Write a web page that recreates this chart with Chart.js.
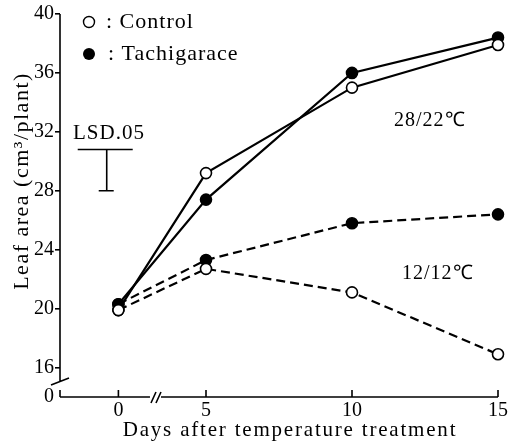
<!DOCTYPE html>
<html>
<head>
<meta charset="utf-8">
<script src="https://cdn.jsdelivr.net/npm/chart.js@4.4.1/dist/chart.umd.min.js"></script>
<style>
  body { margin: 0; background: #fff; }
  canvas { display: block; }
</style>
</head>
<body>
<canvas id="leaf-chart" width="515" height="445"></canvas>
<script>
// days after treatment and leaf area (cm3/plant)
const days = [0, 5, 10, 15];
const control28 = [19.9, 29.2, 35.0, 37.9];
const tachi28 = [20.3, 27.4, 36.0, 38.4];
const control12 = [19.9, 22.7, 21.1, 16.9];
const tachi12 = [20.3, 23.3, 25.8, 26.4];

const xTickLabels = ['0', '5', '10', '15'];
const yTickValues = [14, 16, 20, 24, 28, 32, 36, 40];
const yTickLabels = ['0', '16', '20', '24', '28', '32', '36', '40'];

const lsdBase = 28;
const lsdValue = 2.8;

// the x axis is broken between 0 and 5 days
function axisPos(d) {
  return d < 5 ? 2 + d * 0.6 : d;
}

const serif = '"Liberation Serif", "Times New Roman", serif';

function series(values, filled, dashed) {
  return {
    data: days.map((d, i) => ({ x: axisPos(d), y: values[i] })),
    borderColor: '#000',
    borderWidth: 2.2,
    borderDash: dashed ? [9, 5] : [],
    pointRadius: 5.5,
    pointHoverRadius: 5.5,
    pointBorderWidth: 1.6,
    pointBackgroundColor: filled ? '#000' : '#fff',
    pointBorderColor: '#000',
    tension: 0,
    fill: false,
    clip: false
  };
}

const extras = {
  id: 'extras',
  afterDraw(chart) {
    const ctx = chart.ctx;
    const x = chart.scales.x;
    const y = chart.scales.y;
    const left = x.left;
    const bottom = y.bottom;

    ctx.save();
    ctx.strokeStyle = '#000';
    ctx.fillStyle = '#000';
    ctx.lineWidth = 1.6;

    // y axis with break
    ctx.beginPath();
    ctx.moveTo(left, y.top);
    ctx.lineTo(left, bottom - 15);
    ctx.moveTo(left - 9, bottom - 12);
    ctx.lineTo(left + 9, bottom - 19);
    ctx.moveTo(left, bottom - 7);
    ctx.lineTo(left, bottom);
    ctx.stroke();

    // x axis with break
    const bx = x.getPixelForValue(3.15);
    ctx.beginPath();
    ctx.moveTo(left, bottom);
    ctx.lineTo(bx - 2, bottom);
    ctx.moveTo(bx + 9, bottom);
    ctx.lineTo(x.right, bottom);
    ctx.moveTo(bx - 1, bottom + 6);
    ctx.lineTo(bx + 4, bottom - 5);
    ctx.moveTo(bx + 4, bottom + 6);
    ctx.lineTo(bx + 9, bottom - 5);
    ctx.stroke();

    // inward x ticks
    ctx.beginPath();
    x.ticks.forEach(t => {
      const px = x.getPixelForValue(t.value);
      ctx.moveTo(px, bottom);
      ctx.lineTo(px, bottom - 7);
    });
    ctx.stroke();

    // LSD bar
    const lx = x.getPixelForValue(1.6);
    const lt = y.getPixelForValue(lsdBase + lsdValue);
    const lb = y.getPixelForValue(lsdBase);
    ctx.beginPath();
    ctx.moveTo(lx - 29, lt);
    ctx.lineTo(lx + 26, lt);
    ctx.moveTo(lx, lt);
    ctx.lineTo(lx, lb);
    ctx.moveTo(lx - 8, lb);
    ctx.lineTo(lx + 7, lb);
    ctx.stroke();

    ctx.textBaseline = 'middle';
    ctx.textAlign = 'left';
    ctx.letterSpacing = '1px';
    ctx.font = '21px ' + serif;
    ctx.fillText('LSD.05', 73, 133);

    // legend
    ctx.lineWidth = 1.4;
    ctx.beginPath();
    ctx.arc(89, 22, 5.5, 0, Math.PI * 2);
    ctx.fillStyle = '#fff';
    ctx.fill();
    ctx.stroke();
    ctx.beginPath();
    ctx.arc(89, 54, 6, 0, Math.PI * 2);
    ctx.fillStyle = '#000';
    ctx.fill();
    ctx.font = '22px ' + serif;
    ctx.fillText(': Control', 106, 22);
    ctx.fillText(': Tachigarace', 108, 54);

    // temperature regimes
    ctx.font = '20px ' + serif;
    ctx.fillText('28/22\u2103', 394, 121);
    ctx.fillText('12/12\u2103', 402, 274);

    // axis titles
    ctx.font = '21px ' + serif;
    ctx.letterSpacing = '1.8px';
    ctx.textAlign = 'center';
    ctx.fillText('Days after temperature treatment', 290, 430);
    ctx.save();
    ctx.translate(22, 181);
    ctx.rotate(-Math.PI / 2);
    ctx.font = '22px ' + serif;
    ctx.letterSpacing = '1.5px';
    ctx.fillText('Leaf area (cm\u00b3/plant)', 0, 0);
    ctx.restore();

    ctx.restore();
    ctx.letterSpacing = '0px';
  }
};

new Chart(document.getElementById('leaf-chart'), {
  type: 'line',
  data: {
    datasets: [
      series(control28, false, false),
      series(tachi28, true, false),
      series(control12, false, true),
      series(tachi12, true, true)
    ]
  },
  options: {
    responsive: false,
    animation: false,
    events: [],
    layout: { padding: { left: 0, top: 14, right: 17, bottom: 0 } },
    plugins: {
      legend: { display: false },
      tooltip: { enabled: false }
    },
    scales: {
      x: {
        type: 'linear',
        min: 0,
        max: 15,
        afterBuildTicks: s => { s.ticks = days.map(d => ({ value: axisPos(d) })); },
        afterFit: s => { s.height = 48; },
        grid: { display: false },
        border: { display: false },
        ticks: {
          color: '#000',
          font: { family: serif, size: 20 },
          padding: -6,
          maxRotation: 0,
          callback: (v, i) => xTickLabels[i]
        }
      },
      y: {
        min: 14,
        max: 40,
        afterBuildTicks: s => { s.ticks = yTickValues.map(v => ({ value: v })); },
        afterFit: s => { s.width = 60; },
        grid: {
          drawOnChartArea: false,
          drawTicks: true,
          tickLength: 5,
          lineWidth: 1.6,
          color: c => (c.tick && c.tick.value === 14 ? 'rgba(0,0,0,0)' : '#000')
        },
        border: { display: false },
        ticks: {
          color: '#000',
          font: { family: serif, size: 20 },
          padding: 1,
          callback: (v, i) => yTickLabels[i]
        }
      }
    }
  },
  plugins: [extras]
});
</script>
</body>
</html>
